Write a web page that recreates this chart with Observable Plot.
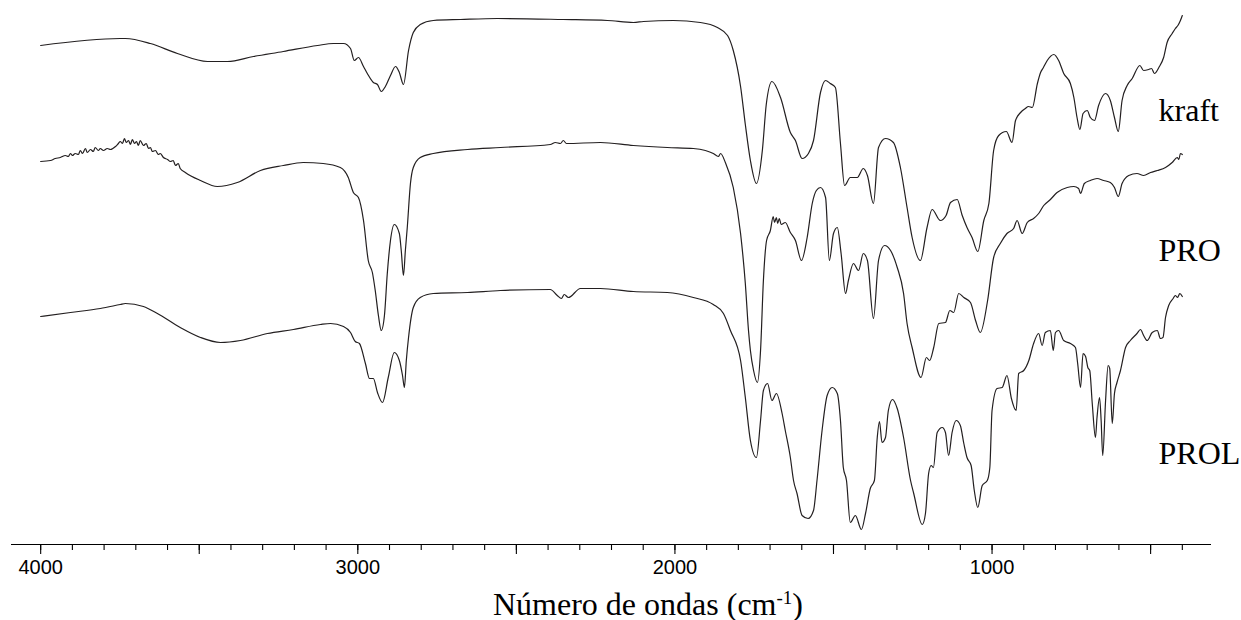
<!DOCTYPE html>
<html>
<head>
<meta charset="utf-8">
<script src="https://cdn.jsdelivr.net/npm/d3@7"></script>
<script src="https://cdn.jsdelivr.net/npm/@observablehq/plot@0.6"></script>
<style>
  html, body { margin: 0; padding: 0; background: #fff; }
  #chart svg { display: block; }
  #xtitle {
    font-family: "Liberation Serif", "Times New Roman", serif;
    font-size: 32px; line-height: 30px; height: 31px;
    padding-left: 493px; white-space: nowrap; color: #000;
  }
  #xtitle .sup { font-size: 19px; position: relative; top: -11px; }
</style>
</head>
<body>
<div id="chart"></div>
<div id="xtitle">Número de ondas (cm<span class="sup">-1</span>)</div>
<script>
// FTIR spectra: [wavenumber (cm-1), transmittance (arbitrary units, offset)]
const kraft = [
  [4000,499],[3749,506],[3733,506],[3654,501],[3569,491],[3474,483],[3411,483],[3329,488],
  [3235,493],[3127,499],[3077,501],[3045,501],[3023,496],[3011,484],[2998,487],[2982,478],
  [2970,471],[2951,462],[2938,460],[2926,453],[2913,458],[2897,469],[2881,478],[2869,472],
  [2856,460],[2840,494],[2825,512],[2803,520],[2762,524],[2676,525],[2560,526],[2352,525],
  [2213,524],[2131,522],[2099,523],[2005,524],[1920,522],[1866,517],[1834,509],[1816,494],
  [1793,458],[1778,420],[1762,384],[1743,361],[1724,395],[1712,440],[1694,463],[1667,447],
  [1636,412],[1620,404],[1599,386],[1579,391],[1563,404],[1541,452],[1525,464],[1510,461],
  [1494,457],[1478,401],[1465,359],[1447,367],[1425,367],[1406,376],[1393,369],[1374,341],
  [1358,397],[1336,406],[1311,402],[1289,377],[1268,337],[1252,307],[1226,284],[1205,317],
  [1189,335],[1163,324],[1145,329],[1131,342],[1110,345],[1094,329],[1079,317],[1063,307],
  [1045,293],[1026,324],[1010,341],[995,394],[979,409],[955,413],[937,402],[926,424],
  [910,432],[895,436],[885,438],[873,437],[857,461],[847,472],[838,477],[826,484],
  [805,490],[790,484],[774,471],[753,461],[742,447],[732,427],[723,415],[713,431],
  [700,434],[690,427],[677,424],[664,439],[642,451],[627,444],[614,427],[602,413],
  [590,444],[574,459],[558,466],[534,479],[522,474],[506,475],[497,476],[488,471],
  [474,477],[459,487],[448,502],[432,511],[422,516],[414,519],[406,524],[400,529]
];
const pro = [
  [4000,383],[3969,384],[3954,386],[3938,387],[3922,389],[3913,388],[3906,391],[3900,389],
  [3891,391],[3881,390],[3875,394],[3868,391],[3859,396],[3853,392],[3843,395],[3834,393],
  [3828,397],[3818,394],[3812,396],[3802,394],[3790,396],[3780,395],[3764,398],[3755,401],
  [3749,403],[3742,401],[3736,406],[3730,402],[3723,404],[3717,400],[3711,405],[3704,401],
  [3698,403],[3692,399],[3686,404],[3676,399],[3667,401],[3660,396],[3654,397],[3648,393],
  [3638,394],[3629,390],[3623,391],[3613,387],[3600,385],[3591,383],[3582,384],[3575,379],
  [3566,381],[3560,376],[3544,372],[3496,364],[3443,358],[3380,362],[3307,374],[3235,379],
  [3172,382],[3109,381],[3055,377],[3030,367],[3014,352],[2998,347],[2982,324],[2967,284],
  [2954,272],[2945,254],[2935,229],[2926,214],[2916,229],[2907,271],[2897,304],[2885,320],
  [2869,311],[2863,294],[2856,269],[2850,294],[2844,317],[2834,361],[2825,377],[2803,387],
  [2762,391],[2654,395],[2550,397],[2393,400],[2377,402],[2361,401],[2352,404],[2342,401],
  [2235,402],[2131,399],[2024,397],[1942,396],[1904,394],[1879,391],[1863,388],[1856,391],
  [1841,382],[1816,357],[1793,311],[1778,261],[1768,214],[1762,194],[1752,174],[1740,162],
  [1730,194],[1721,264],[1711,304],[1699,314],[1690,328],[1686,322],[1680,327],[1676,321],
  [1671,326],[1665,320],[1652,322],[1636,312],[1620,304],[1601,284],[1583,307],[1567,341],
  [1554,354],[1541,357],[1525,347],[1513,284],[1500,311],[1488,317],[1476,291],[1462,251],
  [1453,264],[1437,281],[1421,274],[1406,291],[1393,284],[1374,226],[1358,284],[1339,299],
  [1320,294],[1299,277],[1279,251],[1268,221],[1252,197],[1224,167],[1207,187],[1197,184],
  [1184,197],[1168,221],[1147,222],[1133,234],[1121,232],[1105,251],[1089,247],[1068,242],
  [1052,224],[1037,212],[1014,244],[995,287],[974,301],[953,311],[932,316],[921,324],
  [905,311],[889,322],[869,326],[853,331],[837,339],[816,345],[795,352],[763,357],
  [742,358],[727,356],[721,351],[709,361],[690,364],[669,366],[648,364],[627,362],
  [614,357],[602,348],[590,361],[569,369],[543,371],[522,369],[500,372],[479,374],
  [453,377],[432,382],[416,387],[411,385],[406,391],[400,390]
];
const prol = [
  [4000,228],[3906,232],[3812,236],[3749,240],[3733,241],[3676,238],[3632,231],[3560,217],
  [3496,207],[3433,202],[3370,204],[3285,211],[3203,215],[3118,220],[3086,221],[3045,218],
  [3023,212],[3008,203],[2995,201],[2976,181],[2963,166],[2951,166],[2938,152],[2922,142],
  [2904,167],[2885,192],[2869,184],[2859,169],[2853,157],[2847,184],[2840,207],[2825,237],
  [2803,247],[2762,251],[2654,252],[2550,254],[2393,255],[2371,249],[2358,246],[2349,250],
  [2336,247],[2298,256],[2235,256],[2131,253],[2024,252],[1942,247],[1879,240],[1847,231],
  [1825,214],[1793,184],[1778,147],[1762,104],[1743,87],[1730,124],[1721,154],[1708,161],
  [1694,144],[1680,151],[1662,131],[1652,114],[1636,87],[1626,64],[1615,51],[1599,29],
  [1580,26],[1563,34],[1552,64],[1536,114],[1520,149],[1504,157],[1488,151],[1478,124],
  [1469,77],[1459,64],[1447,22],[1431,29],[1412,15],[1399,31],[1384,56],[1371,64],
  [1362,107],[1355,123],[1347,102],[1336,107],[1327,134],[1314,145],[1299,136],[1279,107],
  [1257,64],[1247,51],[1220,20],[1210,31],[1200,71],[1192,79],[1185,77],[1173,112],
  [1157,117],[1147,112],[1137,89],[1126,112],[1113,124],[1100,119],[1089,101],[1079,87],
  [1066,79],[1056,54],[1045,37],[1031,59],[1015,64],[1007,77],[1000,134],[984,156],
  [968,157],[953,169],[939,146],[924,134],[916,171],[900,174],[884,184],[869,201],
  [853,211],[842,199],[832,212],[816,214],[807,194],[800,212],[790,214],[774,204],
  [753,201],[737,197],[730,181],[721,157],[713,191],[705,188],[698,177],[692,174],
  [684,141],[674,107],[669,127],[661,147],[656,124],[651,89],[642,144],[634,179],
  [629,176],[621,121],[614,151],[606,162],[595,174],[579,197],[564,204],[543,211],
  [532,215],[522,209],[511,204],[495,212],[479,214],[469,206],[461,207],[453,227],
  [443,239],[429,246],[422,249],[415,247],[408,251],[400,248]
];

const seriesNames = ["kraft", "PRO", "PROL"];
const labelWavenumber = [475, 475, 475];
const labelBaseline = [424, 284, 81];

const tickLabels = [4000, 3000, 2000, 1000];
const majorTicks = [4000, 3500, 3000, 2500, 2000, 1500, 1000, 500];
const minorTicks = [4000,3900,3800,3700,3600,3500,3400,3300,3200,3100,3000,2900,2800,2700,2600,
  2500,2400,2300,2200,2100,2000,1900,1800,1700,1600,1500,1400,1300,1200,1100,1000,900,800,
  700,600,500,400];

const rows = [];
[kraft, pro, prol].forEach((arr, i) => {
  for (const [w, t] of arr) rows.push({series: seriesNames[i], w, t});
});
const labels = seriesNames.map((name, i) => ({name, w: labelWavenumber[i], t: labelBaseline[i]}));

const ink = "#231f20";
const chart = Plot.plot({
  width: 1241,
  height: 589,
  marginLeft: 11,
  marginRight: 30,
  marginTop: 10,
  marginBottom: 45,
  style: {fontFamily: "'Liberation Sans', Arial, sans-serif", color: "#000", background: "#fff"},
  x: {domain: [4092, 308], axis: null},
  y: {domain: [0, 534], axis: null},
  marks: [
    Plot.ruleY([0], {stroke: "#000", strokeWidth: 1.2}),
    Plot.axisX({ticks: minorTicks, tickSize: 6, text: null, label: null, stroke: "#000", strokeWidth: 1.1}),
    Plot.axisX({ticks: majorTicks, tickSize: 10, text: null, label: null, stroke: "#000", strokeWidth: 1.1}),
    Plot.axisX({ticks: tickLabels, tickSize: 0, tickPadding: 15, fontSize: 20, label: null,
      tickFormat: d => String(d), fill: "#000"}),
    Plot.line(rows, {x: "w", y: "t", z: "series", stroke: ink, strokeWidth: 1.2, curve: "monotone-x"}),
    Plot.text(labels, {x: "w", y: "t", text: "name", textAnchor: "start", lineAnchor: "bottom",
      fontSize: 32, fontFamily: "'Liberation Serif', 'Times New Roman', serif", fill: "#000"})
  ]
});
document.getElementById("chart").appendChild(chart);
</script>
</body>
</html>
